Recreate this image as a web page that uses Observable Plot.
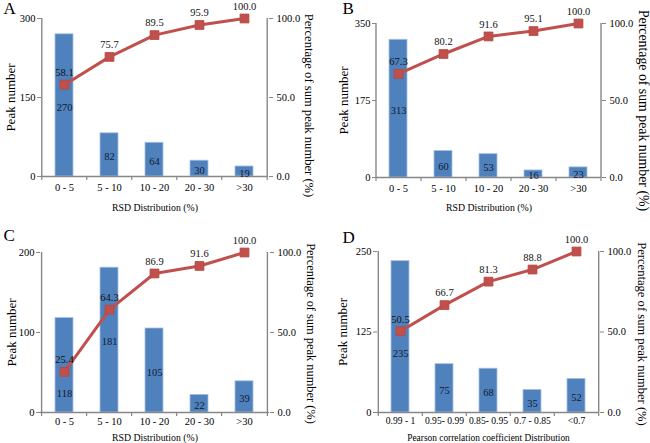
<!DOCTYPE html>
<html><head><meta charset="utf-8">
<script src="https://cdn.jsdelivr.net/npm/d3@7"></script>
<script src="https://cdn.jsdelivr.net/npm/@observablehq/plot@0.6"></script>
<style>
html,body{margin:0;padding:0;background:#fff;}
#wrap{position:relative;width:650px;height:443px;overflow:hidden;}
.panel{position:absolute;}
svg.panel, svg.panel text, svg.panel g {font-family: "Liberation Serif", "Times New Roman", serif !important;}
</style></head><body><div id="wrap"></div>
<script>
// ---- data ----
const rsdCategories = ["0 - 5", "5 - 10", "10 - 20", "20 - 30", ">30"];
const pearsonCategories = ["0.99 - 1", "0.95- 0.99", "0.85- 0.95", "0.7 - 0.85", "<0.7"];

const peaksA = [270, 82, 64, 30, 19];
const pctA = [58.1, 75.7, 89.5, 95.9, 100.0];
const peaksB = [313, 60, 53, 16, 23];
const pctB = [67.3, 80.2, 91.6, 95.1, 100.0];
const peaksC = [118, 181, 105, 22, 39];
const pctC = [25.4, 64.3, 86.9, 91.6, 100.0];
const peaksD = [235, 75, 68, 35, 52];
const pctD = [50.5, 66.7, 81.3, 88.8, 100.0];

const leftTicksA = [0, 150, 300];
const leftTicksB = [0, 175, 350];
const leftTicksC = [0, 100, 200];
const leftTicksD = [0, 125, 250];
const pctTicks = [0, 50, 100];

const leftTitle = "Peak number";
const rightTitle = "Percentage of sum peak number (%)";
const rsdTitle = "RSD Distribution (%)";
const pearsonTitle = "Pearson correlation coefficient Distribution";
const letters = ["A", "B", "C", "D"];

// ---- layout ----
const FONT = "Liberation Serif";
const AXIS = "#878787";
const BAR = "#4f81bd";
const RED = "#c0504d";

function panel(cfg) {
  const {cats, counts, pcts, leftTicks, xTitle, letter, box, m, off, fs} = cfg;
  const max = leftTicks[leftTicks.length - 1];
  const n = cats.length;
  const step = (box.w - m.l - m.r) / n;
  const k = (box.h - m.t - m.b) / max; // px per unit
  const rows = cats.map((c, i) => {
    const yp = pcts[i] * max / 100;
    let yl = counts[i] / 2;
    // keep the count label clear of the line marker
    if (Math.abs(yl - yp) * k < 16) yl = yp - 20 / k;
    return {cat: c, n: counts[i], pct: pcts[i], yp, yl};
  });
  const plot = Plot.plot({
    width: box.w, height: box.h,
    marginLeft: m.l, marginRight: m.r, marginTop: m.t, marginBottom: m.b,
    style: {fontFamily: FONT, fontSize: "10px", color: "#000", background: "transparent", overflow: "visible"},
    x: {domain: cats, paddingInner: 0.6, paddingOuter: 0.3, axis: null},
    y: {domain: [0, max], axis: null},
    marks: [
      Plot.barY(rows, {x: "cat", y: "n", fill: BAR, stroke: "#a3c0e4", strokeWidth: 0.8}),
      Plot.ruleY([0], {stroke: AXIS, strokeWidth: 1.4}),
      Plot.ruleX([cats[0]], {dx: -step / 2, y1: 0, y2: max, stroke: AXIS, strokeWidth: 1.4}),
      Plot.ruleX([cats[n - 1]], {dx: step / 2, y1: 0, y2: max, stroke: AXIS, strokeWidth: 1.4}),
      Plot.ruleX(cats, {x: d => d, dx: -step / 2, y1: 0, y2: 0, insetBottom: -4, stroke: AXIS, strokeWidth: 1.2}),
      Plot.ruleX([cats[n - 1]], {dx: step / 2, y1: 0, y2: 0, insetBottom: -4, stroke: AXIS, strokeWidth: 1.2}),
      Plot.axisY(leftTicks, {anchor: "left", tickSize: 4, tickPadding: 2, stroke: AXIS, fill: "#000", label: null, fontSize: fs.tick}),
      Plot.axisY(pctTicks.map(p => p * max / 100), {anchor: "right", tickSize: 4, tickPadding: 4, stroke: AXIS, fill: "#000", label: null, fontSize: fs.tick,
        tickFormat: v => (v / max * 100).toFixed(1)}),
      Plot.axisX({anchor: "bottom", tickSize: 0, tickPadding: off.xTick, label: null, fill: "#000", fontSize: fs.xTick}),
      Plot.text(rows, {x: "cat", y: "yl", text: d => String(d.n), dy: 2, fill: "#111a33", fontSize: fs.data}),
      Plot.line(rows, {x: "cat", y: "yp", stroke: RED, strokeWidth: 3}),
      Plot.dot(rows, {x: "cat", y: "yp", symbol: "square", r: 5, fill: RED, stroke: "#b8463f", strokeWidth: 0.8}),
      Plot.text(rows, {x: "cat", y: "yp", text: d => d.pct.toFixed(1), dy: -12, fill: "#111", fontSize: fs.data}),
      Plot.text([leftTitle], {frameAnchor: "left", rotate: -90, dx: -off.left, textAnchor: "middle", lineAnchor: "middle", fontSize: fs.left}),
      Plot.text([rightTitle], {frameAnchor: "right", rotate: 90, dx: off.right, dy: off.rightDy, textAnchor: "middle", lineAnchor: "middle", fontSize: fs.right}),
      Plot.text([xTitle], {frameAnchor: "bottom", dy: off.xTitle, textAnchor: "middle", lineAnchor: "middle", fontSize: fs.xTitle}),
      Plot.text([letter], {frameAnchor: "top-left", dx: off.lx, dy: off.ly, textAnchor: "start", lineAnchor: "middle", fontSize: 17})
    ]
  });
  plot.classList.add("panel");
  plot.style.left = box.x + "px";
  plot.style.top = box.y + "px";
  document.getElementById("wrap").appendChild(plot);
}

panel({cats: rsdCategories, counts: peaksA, pcts: pctA, leftTicks: leftTicksA, xTitle: rsdTitle, letter: letters[0],
  box: {x: 0, y: 0, w: 325, h: 222}, m: {l: 41, r: 57, t: 18, b: 46},
  off: {left: 31, right: 41, rightDy: 8, xTick: 7, xTitle: 31, lx: -38, ly: -10},
  fs: {tick: 10.5, xTick: 10.5, data: 10.5, left: 13, right: 12.6, xTitle: 9.8}});
panel({cats: rsdCategories, counts: peaksB, pcts: pctB, leftTicks: leftTicksB, xTitle: rsdTitle, letter: letters[1],
  box: {x: 325, y: 0, w: 325, h: 222}, m: {l: 51, r: 49, t: 23, b: 45},
  off: {left: 33, right: 42, rightDy: 10, xTick: 7, xTitle: 30, lx: -34, ly: -15},
  fs: {tick: 10.5, xTick: 10.5, data: 10.5, left: 13, right: 13.8, xTitle: 9.8}});
panel({cats: rsdCategories, counts: peaksC, pcts: pctC, leftTicks: leftTicksC, xTitle: rsdTitle, letter: letters[2],
  box: {x: 0, y: 222, w: 325, h: 221}, m: {l: 40, r: 56, t: 30, b: 31},
  off: {left: 29, right: 41, rightDy: 1, xTick: 5, xTitle: 25, lx: -37, ly: -17},
  fs: {tick: 10.5, xTick: 10.5, data: 10.5, left: 13, right: 12.4, xTitle: 9.8}});
panel({cats: pearsonCategories, counts: peaksD, pcts: pctD, leftTicks: leftTicksD, xTitle: pearsonTitle, letter: letters[3],
  box: {x: 325, y: 222, w: 325, h: 221}, m: {l: 52, r: 51, t: 29, b: 31},
  off: {left: 35, right: 43, rightDy: 2, xTick: 5, xTitle: 25, lx: -35, ly: -14},
  fs: {tick: 10.5, xTick: 9.6, data: 10.5, left: 13, right: 12.6, xTitle: 9.4}});
</script></body></html>
